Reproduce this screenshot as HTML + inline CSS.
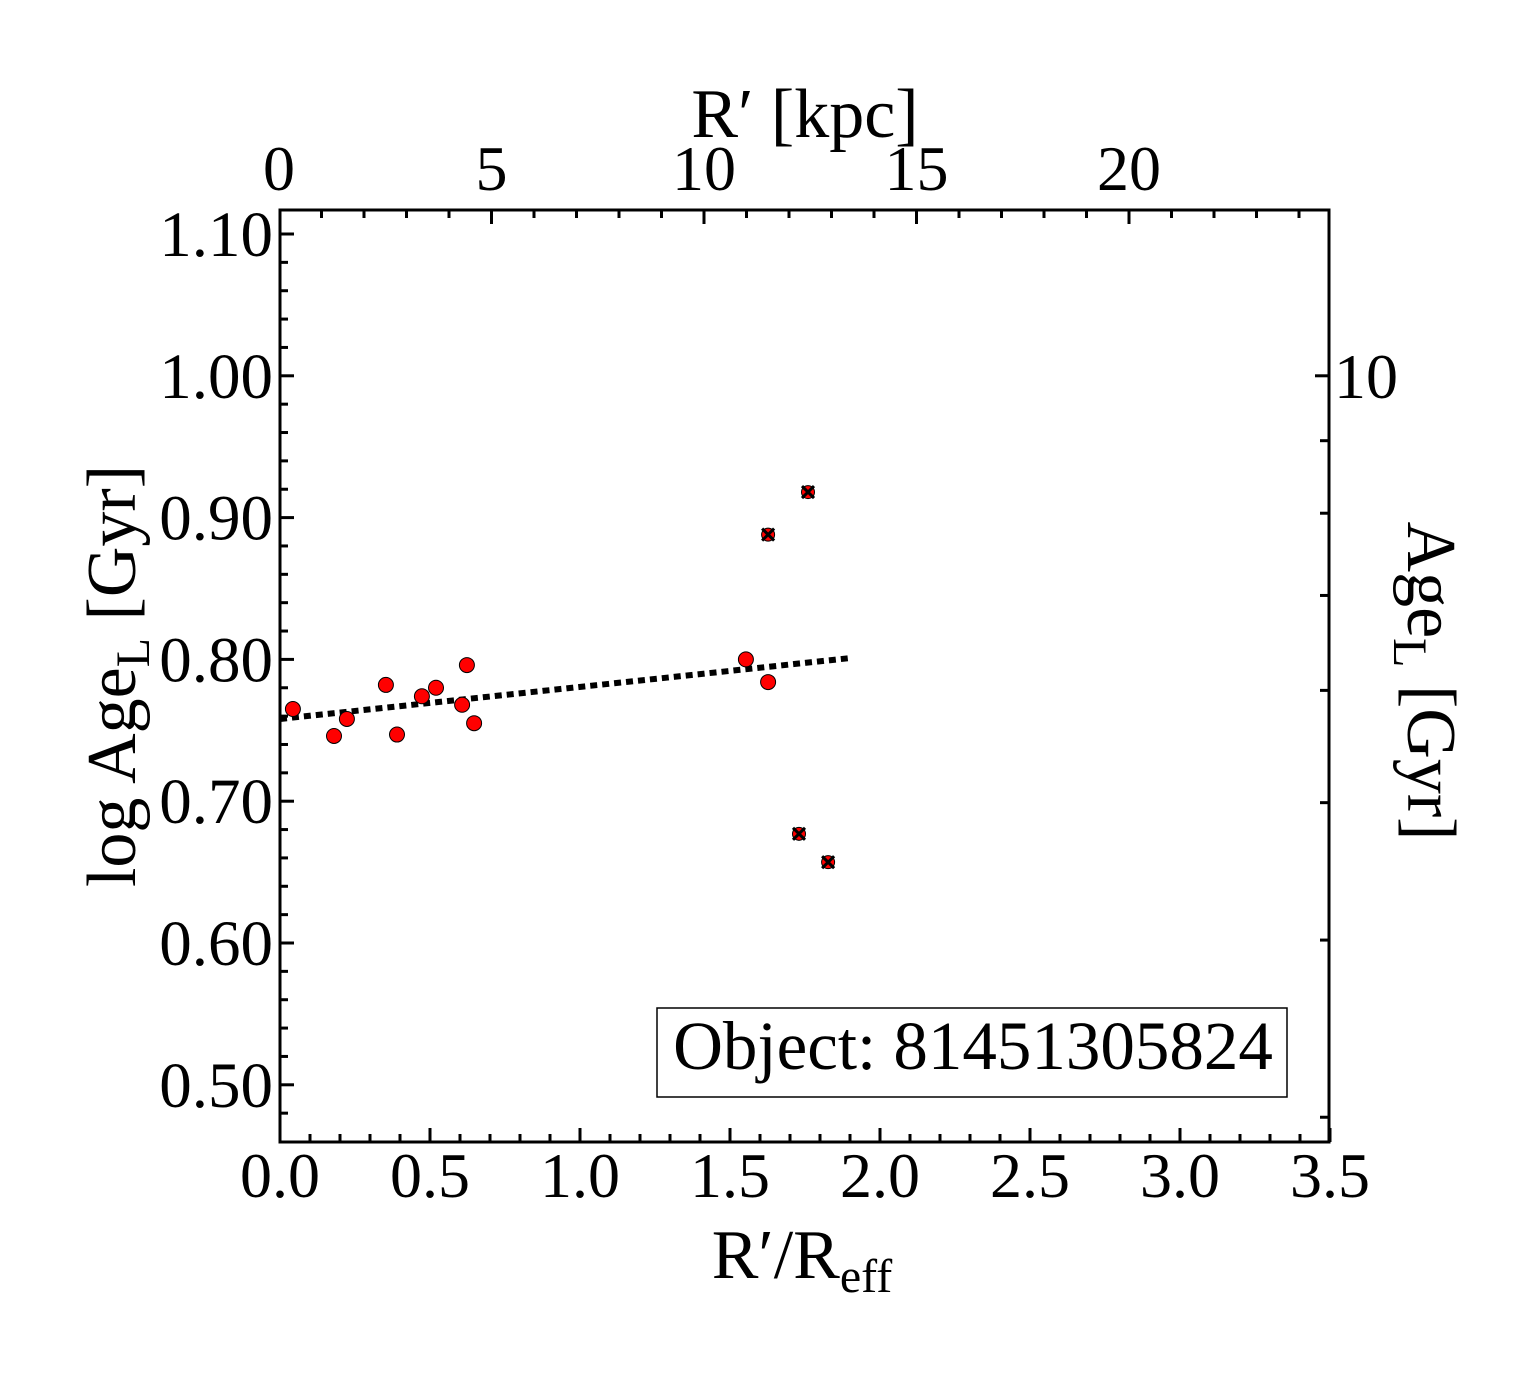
<!DOCTYPE html>
<html><head><meta charset="utf-8"><style>
html,body{margin:0;padding:0;background:#fff;}
svg{display:block;font-family:"Liberation Serif",serif;}
</style></head><body>
<svg id="chart" width="1540" height="1375" viewBox="0 0 1540 1375" xmlns="http://www.w3.org/2000/svg">
<g id="ticks"></g>
<g id="marks"></g>
<rect x="280" y="210" width="1049" height="932" fill="none" stroke="#000" stroke-width="3"/>
<text x="805" y="137" font-size="70" text-anchor="middle">R′ [kpc]</text>
<text x="802" y="1278" font-size="70" text-anchor="middle">R′/R<tspan font-size="48" dy="14">eff</tspan></text>
<text transform="translate(135,676) rotate(-90)" font-size="70" text-anchor="middle">log Age<tspan font-size="48" dy="14">L</tspan><tspan dy="-14"> [Gyr]</tspan></text>
<text transform="translate(1408,681) rotate(90)" font-size="70" text-anchor="middle">Age<tspan font-size="48" dy="14">L</tspan><tspan dy="-14"> [Gyr]</tspan></text>
<rect x="657" y="1008" width="630" height="89" fill="#fff" stroke="#000" stroke-width="1.5"/>
<text x="973" y="1069" font-size="69" text-anchor="middle">Object: 81451305824</text>
</svg>
<script>
const xVals=[0.043,0.180,0.223,0.353,0.390,0.473,0.520,0.607,0.623,0.647,1.553,1.627];
const yVals=[0.765,0.746,0.758,0.782,0.747,0.774,0.780,0.768,0.796,0.755,0.800,0.784];
const xOut=[1.627,1.760,1.730,1.827];
const yOut=[0.888,0.918,0.677,0.657];
const fitX=[0.0,1.903];
const fitY=[0.758,0.801];
const xTickLabels=["0.0","0.5","1.0","1.5","2.0","2.5","3.0","3.5"];
const yTickLabels=["0.50","0.60","0.70","0.80","0.90","1.00","1.10"];
const kpcLabels=["0","5","10","15","20"];
const ageTicks=[3,4,5,6,7,8,9,10];

const NS="http://www.w3.org/2000/svg";
const X=v=>280+v*300;
const Y=v=>234+(1.10-v)*1418;
const K=v=>279+v*42.5;
function mk(tag,attrs,parent){const e=document.createElementNS(NS,tag);for(const k in attrs)e.setAttribute(k,attrs[k]);parent.appendChild(e);return e;}
const tg=document.getElementById('ticks');
const mg=document.getElementById('marks');
for(let i=0;i<=35;i++){const v=i/10,maj=i%5===0,x=X(v);
 const t=mk('line',{x1:x,x2:x,y1:1142,y2:1142-(maj?14:8),stroke:'#000','stroke-width':3},tg);
 
 }
xTickLabels.forEach(s=>{const t=mk('text',{x:X(parseFloat(s)),y:1197,'font-size':64,'text-anchor':'middle'},tg);t.textContent=s;
 
 });
for(let i=23;i<=55;i++){const v=i/50,maj=i%5===0,y=Y(v);if(y<212||y>1141)continue;
 const t=mk('line',{x1:280,x2:280+(maj?14:8),y1:y,y2:y,stroke:'#000','stroke-width':3},tg);
 
 }
yTickLabels.forEach(s=>{const t=mk('text',{x:273,y:Y(parseFloat(s))+22,'font-size':65,'text-anchor':'end'},tg);t.textContent=s;
 
 });
for(let i=0;i<=24;i++){const x=K(i);if(x<280||x>1328)continue;const maj=i%5===0;
 const t=mk('line',{x1:x,x2:x,y1:210,y2:210+(maj?14:8),stroke:'#000','stroke-width':3},tg);
 
 }
kpcLabels.forEach(s=>{const t=mk('text',{x:K(parseFloat(s)),y:190,'font-size':64,'text-anchor':'middle'},tg);t.textContent=s;
 
 });
ageTicks.forEach(a=>{const y=Y(Math.log10(a));const maj=a===10;
 const t=mk('line',{x1:1329,x2:1329-(maj?14:9),y1:y,y2:y,stroke:'#000','stroke-width':3},tg);
 
 
 if(maj){const l=mk('text',{x:1334,y:y+22,'font-size':64},tg);l.textContent='10';
  
  }});
const fl=mk('line',{x1:X(fitX[0]),y1:Y(fitY[0]),x2:X(fitX[1]),y2:Y(fitY[1]),stroke:'#000','stroke-width':6,'stroke-dasharray':'7 5'},mg);


xVals.forEach((v,i)=>{const c=mk('circle',{cx:X(v),cy:Y(yVals[i]),r:7.5,fill:'#f00',stroke:'#000','stroke-width':1},mg);
 
 });
xOut.forEach((v,i)=>{const cx=X(v),cy=Y(yOut[i]);
 const g=mk('g',{},mg);
 
 
 mk('circle',{cx:cx,cy:cy,r:6.5,fill:'#f00',stroke:'#000','stroke-width':1},g);
 mk('path',{d:`M${cx-6},${cy-6}L${cx+6},${cy+6}M${cx+6},${cy-6}L${cx-6},${cy+6}`,stroke:'#000','stroke-width':3},g);});
</script>
</body></html>
